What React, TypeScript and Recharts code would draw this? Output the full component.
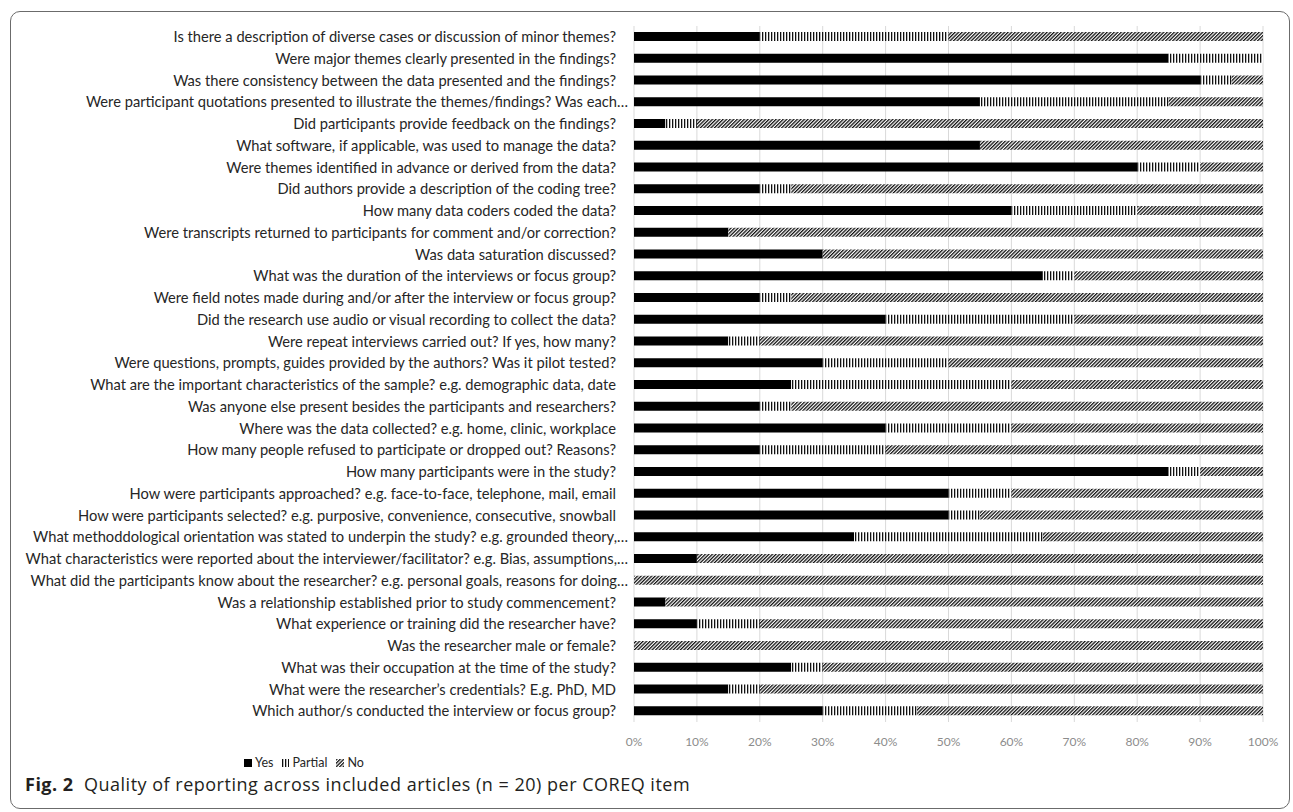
import React from 'react';
import { BarChart, Bar, XAxis, YAxis, CartesianGrid } from 'recharts';

// COREQ items, top to bottom as shown
const items = [
  'Is there a description of diverse cases or discussion of minor themes?',
  'Were major themes clearly presented in the findings?',
  'Was there consistency between the data presented and the findings?',
  'Were participant quotations presented to illustrate the themes/findings? Was each…',
  'Did participants provide feedback on the findings?',
  'What software, if applicable, was used to manage the data?',
  'Were themes identified in advance or derived from the data?',
  'Did authors provide a description of the coding tree?',
  'How many data coders coded the data?',
  'Were transcripts returned to participants for comment and/or correction?',
  'Was data saturation discussed?',
  'What was the duration of the interviews or focus group?',
  'Were field notes made during and/or after the interview or focus group?',
  'Did the research use audio or visual recording to collect the data?',
  'Were repeat interviews carried out? If yes, how many?',
  'Were questions, prompts, guides provided by the authors? Was it pilot tested?',
  'What are the important characteristics of the sample? e.g. demographic data, date',
  'Was anyone else present besides the participants and researchers?',
  'Where was the data collected? e.g. home, clinic, workplace',
  'How many people refused to participate or dropped out? Reasons?',
  'How many participants were in the study?',
  'How were participants approached? e.g. face-to-face, telephone, mail, email',
  'How were participants selected? e.g. purposive, convenience, consecutive, snowball',
  'What methoddological orientation was stated to underpin the study? e.g. grounded theory,…',
  'What characteristics were reported about the interviewer/facilitator? e.g. Bias, assumptions,…',
  'What did the participants know about the researcher? e.g. personal goals, reasons for doing…',
  'Was a relationship established prior to study commencement?',
  'What experience or training did the researcher have?',
  'Was the researcher male or female?',
  'What was their occupation at the time of the study?',
  'What were the researcher’s credentials? E.g. PhD, MD',
  'Which author/s conducted the interview or focus group?',
];

const yesPct = [20, 85, 90, 55, 5, 55, 80, 20, 60, 15, 30, 65, 20, 40, 15, 30, 25, 20, 40, 20, 85, 50, 50, 35, 10, 0, 5, 10, 0, 25, 15, 30];
const partialPct = [30, 15, 5, 30, 5, 0, 10, 5, 20, 0, 0, 5, 5, 30, 5, 20, 35, 5, 20, 20, 5, 10, 5, 30, 0, 0, 0, 10, 0, 5, 5, 15];
const noPct = [50, 0, 5, 15, 90, 45, 10, 75, 20, 85, 70, 30, 75, 30, 80, 50, 40, 75, 40, 60, 10, 40, 45, 35, 90, 100, 95, 80, 100, 70, 80, 55];

const xTicks = [0, 10, 20, 30, 40, 50, 60, 70, 80, 90, 100];

const series = [
  { key: 'yes', name: 'Yes', fill: '#000000' },
  { key: 'partial', name: 'Partial', fill: 'url(#partialHatch)' },
  { key: 'no', name: 'No', fill: 'url(#noHatch)' },
];

const data = items.map((item, i) => ({
  item,
  yes: yesPct[i],
  partial: partialPct[i],
  no: noPct[i],
}));

const FONT = 'Lato, "Open Sans", sans-serif';

const ItemTick = (props: any) => {
  const { x, y, payload } = props;
  const label: string = payload.value;
  const cut = label.endsWith('…');
  return (
    <text
      x={x - (cut ? 6 : 18)}
      y={y}
      dy="0.35em"
      textAnchor="end"
      fontSize={14.7}
      fill="#262626"
      fontFamily={FONT}
    >
      {label}
    </text>
  );
};

const LegendIcon = ({ fill, narrow }: { fill: string; narrow?: boolean }) => (
  <svg width={narrow ? 7 : 8} height={8} style={{ marginRight: 3 }}>
    <rect x={0} y={0} width={narrow ? 7 : 8} height={8} fill={fill} />
  </svg>
);

export default function App() {
  return (
    <div style={{ position: 'absolute', left: 0, top: 0, width: 1293, height: 812, background: '#fff', fontFamily: FONT, overflow: 'hidden' }}>
      <div
        style={{
          position: 'absolute',
          left: 10,
          top: 11,
          width: 1280,
          height: 798,
          border: '1px solid #6b6b6b',
          borderRadius: 10,
          boxSizing: 'border-box',
        }}
      />
      <div style={{ position: 'absolute', left: 0, top: 0 }}>
        <BarChart
          width={1293}
          height={812}
          data={data}
          layout="vertical"
          margin={{ top: 26, right: 30, bottom: 60, left: 0 }}
          barSize={9}
        >
          <defs>
            <pattern id="partialHatch" patternUnits="userSpaceOnUse" width={3} height={4}>
              <rect x={0} y={0} width={3} height={4} fill="#ffffff" />
              <rect x={0} y={0} width={1.3} height={4} fill="#111111" />
            </pattern>
            <pattern id="noHatch" patternUnits="userSpaceOnUse" width={2.5} height={3} patternTransform="rotate(45)">
              <rect x={0} y={0} width={2.5} height={3} fill="#ffffff" />
              <rect x={0} y={0} width={1.3} height={3} fill="#111111" />
            </pattern>
          </defs>
          <CartesianGrid horizontal={false} stroke="#d9d9d9" />
          <XAxis
            type="number"
            domain={[0, 100]}
            ticks={xTicks}
            tickFormatter={(v: number) => `${v}%`}
            axisLine={false}
            tickLine={false}
            tickSize={0}
            tickMargin={15}
            interval={0}
            tick={{ fontSize: 12, fill: '#8c8c8c', fontFamily: FONT }}
          />
          <YAxis
            type="category"
            dataKey="item"
            width={634}
            axisLine={false}
            tickLine={false}
            tickSize={0}
            tickMargin={0}
            interval={0}
            tick={<ItemTick />}
          />
          {series.map((s) => (
            <Bar key={s.key} dataKey={s.key} name={s.name} stackId="a" fill={s.fill} isAnimationActive={false} />
          ))}
        </BarChart>
      </div>
      <div
        style={{
          position: 'absolute',
          left: 244,
          top: 755,
          display: 'flex',
          alignItems: 'center',
          fontSize: 12.5,
          color: '#262626',
        }}
      >
        {series.map((s) => (
          <div key={s.key} style={{ display: 'flex', alignItems: 'center', marginRight: 9 }}>
            <LegendIcon fill={s.fill} narrow={s.key === 'partial'} />
            <span>{s.name}</span>
          </div>
        ))}
      </div>
      <div
        style={{
          position: 'absolute',
          left: 25,
          top: 772,
          fontSize: 18,
          letterSpacing: 0.5,
          color: '#231f20',
          fontFamily: '"Open Sans", sans-serif',
          whiteSpace: 'nowrap',
        }}
      >
        <b>Fig. 2</b>&nbsp;&nbsp;Quality of reporting across included articles (n = 20) per COREQ item
      </div>
    </div>
  );
}
